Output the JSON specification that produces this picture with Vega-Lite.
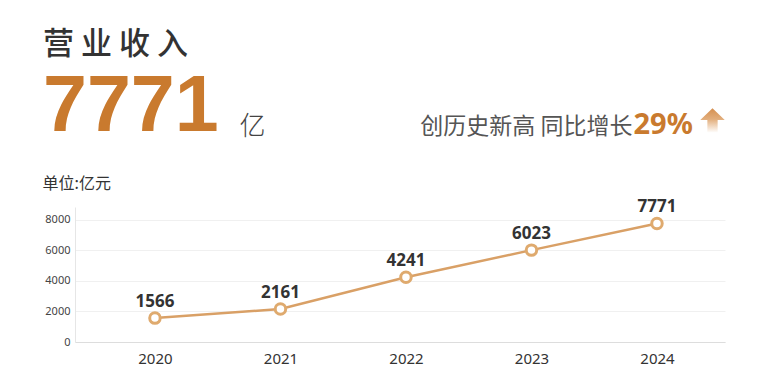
{
  "$schema": "https://vega.github.io/schema/vega-lite/v6.json",
  "autosize": {"type": "none"},
  "width": 650,
  "height": 135,
  "padding": {"left": 75, "top": 207, "right": 41, "bottom": 49},
  "background": "#ffffff",
  "title": {
    "text": "营 业 收 入",
    "subtitle": "7771",
    "anchor": "start",
    "frame": "group",
    "dx": -32,
    "dy": 40,
    "font": "Noto Sans CJK SC",
    "fontSize": 31,
    "fontWeight": 500,
    "color": "#333333",
    "subtitleFont": "Liberation Sans",
    "subtitleFontSize": 79,
    "subtitleFontWeight": "bold",
    "subtitleColor": "#C97A2E",
    "subtitlePadding": 8,
    "offset": 0
  },
  "data": {
    "values": [
      {"year": 2020, "value": 1566},
      {"year": 2021, "value": 2161},
      {"year": 2022, "value": 4241},
      {"year": 2023, "value": 6023},
      {"year": 2024, "value": 7771}
    ]
  },
  "config": {
    "view": {"stroke": null},
    "axis": {"titleFont": "Noto Sans CJK SC", "labelFont": "Noto Sans"}
  },
  "layer": [
    {
      "encoding": {
        "x": {
          "field": "year",
          "type": "quantitative",
          "scale": {"domain": [2019.363, 2024.542], "nice": false, "zero": false},
          "axis": {
            "orient": "bottom",
            "values": [2020, 2021, 2022, 2023, 2024],
            "format": "d",
            "grid": false,
            "ticks": false,
            "domainColor": "#dddddd",
            "labelFontSize": 15,
            "labelColor": "#333333",
            "labelPadding": 9,
            "title": "亿",
            "titleFontSize": 26,
            "titleFontWeight": 300,
            "titleColor": "#444444",
            "titleX": 177,
            "titleY": -208,
            "titleAlign": "center",
            "titleBaseline": "alphabetic"
          }
        },
        "y": {
          "field": "value",
          "type": "quantitative",
          "scale": {"domain": [0, 8850], "nice": false},
          "axis": {
            "orient": "left",
            "values": [0, 2000, 4000, 6000, 8000],
            "format": "d",
            "grid": true,
            "gridColor": "#f0f0f0",
            "ticks": false,
            "domainColor": "#e6e6e6",
            "labelFontSize": 11,
            "labelColor": "#444444",
            "labelPadding": 5,
            "title": "单位:亿元",
            "titleAngle": 0,
            "titleFontSize": 16,
            "titleFontWeight": "normal",
            "titleColor": "#333333",
            "titleX": -33,
            "titleY": -19,
            "titleAlign": "left",
            "titleBaseline": "alphabetic"
          }
        }
      },
      "layer": [
        {"mark": {"type": "line", "color": "#D9A066", "strokeWidth": 2.5}},
        {"mark": {"type": "point", "shape": "circle", "filled": true, "fill": "#ffffff", "stroke": "#DFAA6E", "strokeWidth": 3, "size": 110, "opacity": 1}},
        {
          "mark": {"type": "text", "font": "Noto Sans", "fontWeight": "bold", "fontSize": 17, "color": "#333333", "baseline": "alphabetic", "dy": -11},
          "encoding": {"text": {"field": "value", "type": "quantitative", "format": "d"}}
        }
      ]
    },
    {
      "mark": {
        "type": "point",
        "filled": true,
        "opacity": 0,
        "strokeWidth": 0,
        "fill": {"gradient": "linear", "x1": 0, "y1": 0, "x2": 0, "y2": 1, "stops": [{"offset": 0, "color": "#D58F4F"}, {"offset": 0.45, "color": "#E2AE7C"}, {"offset": 1, "color": "#FFFFFF"}]}
      },
      "encoding": {
        "x": {
          "field": "year",
          "type": "quantitative",
          "scale": {"domain": [2019.363, 2024.542], "nice": false, "zero": false},
          "axis": {
            "orient": "top",
            "labels": false,
            "ticks": false,
            "domain": false,
            "grid": false,
            "title": "创历史新高 同比增长",
            "titleFontSize": 23,
            "titleFontWeight": "normal",
            "titleColor": "#555555",
            "titleX": 557,
            "titleY": -74,
            "titleAlign": "right",
            "titleBaseline": "alphabetic"
          }
        },
        "y": {
          "field": "value",
          "type": "quantitative",
          "scale": {"domain": [0, 8850], "nice": false},
          "axis": {
            "orient": "right",
            "labels": false,
            "ticks": false,
            "domain": false,
            "grid": false,
            "title": "29%",
            "titleAngle": 0,
            "titleFont": "Noto Sans",
            "titleFontSize": 29,
            "titleFontWeight": "bold",
            "titleColor": "#C97A2E",
            "titleX": -92,
            "titleY": -74,
            "titleAlign": "left",
            "titleBaseline": "alphabetic"
          }
        },
        "shape": {
          "datum": "arrow",
          "scale": {"range": ["M0,-1L1,-0.05L0.42,-0.05L0.42,1L-0.42,1L-0.42,-0.05L-1,-0.05Z"]},
          "legend": {
            "orient": "none",
            "legendX": 625,
            "legendY": -99,
            "title": null,
            "labelExpr": "''",
            "symbolSize": 600,
            "symbolOpacity": 1,
            "symbolStrokeWidth": 0,
            "symbolStrokeColor": "transparent",
            "padding": 0,
            "encode": {
              "symbols": {
                "update": {
                  "opacity": {"value": 1},
                  "strokeWidth": {"value": 0},
                  "fill": {"value": {"gradient": "linear", "x1": 0, "y1": 0, "x2": 0, "y2": 1, "stops": [{"offset": 0, "color": "#D58F4F"}, {"offset": 0.45, "color": "#E2AE7C"}, {"offset": 1, "color": "#FFFFFF"}]}}
                }
              }
            }
          }
        }
      }
    }
  ],
  "resolve": {"scale": {"x": "independent", "y": "independent", "shape": "independent"}, "axis": {"x": "independent", "y": "independent"}}
}
